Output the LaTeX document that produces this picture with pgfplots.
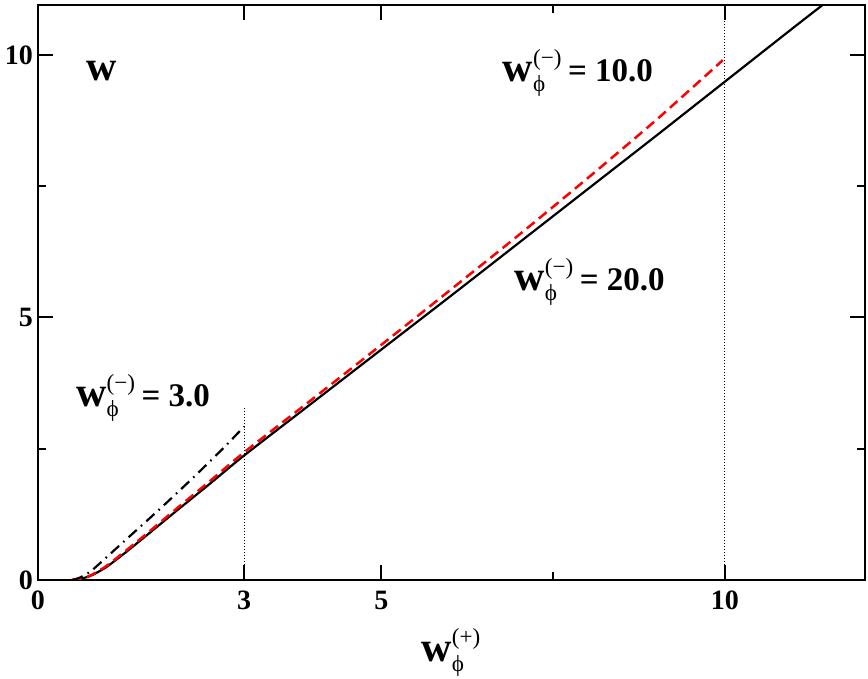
\documentclass[border=0pt]{standalone}
\usepackage{amsmath}
\usepackage{fontspec}
\setmainfont{Liberation Serif}
\usepackage{pgfplots}
\pgfplotsset{compat=1.18}
\newcommand{\wlab}[1]{$\text{\fontsize{21}{23}\selectfont\bfseries w}^{\text{\mdseries(#1)}}_{\text{\mdseries ϕ}}$}
\begin{document}
\begin{tikzpicture}
\begin{axis}[name=ax,
  scale only axis, width=413.5pt, height=287.5pt,
  xmin=0, xmax=12.04, ymin=0, ymax=10.95,
  axis line style={line width=1.25pt},
  xtick={0,3,5,10}, minor xtick={7.5},
  ytick={0,5,10}, minor ytick={2.5,7.5},
  tick align=inside,
  major tick length=7.5pt, minor tick length=4pt,
  every tick/.style={black, line width=1pt},
  tick label style={font=\fontsize{14}{16}\selectfont\bfseries},
  /pgf/number format/assume math mode=true,
  xticklabel style={yshift=-2pt},
  yticklabel style={xshift=1pt},
  xlabel={\fontsize{16.5}{19}\selectfont\wlab{+}},
  xlabel style={yshift=-2.5pt},
  clip=true,
]
% dotted verticals
\addplot[black, line width=0.5pt, dash pattern=on 0.5pt off 1pt] coordinates {(3,0) (3,3.3)};
\addplot[black, line width=0.5pt, dash pattern=on 0.5pt off 1pt] coordinates {(10,0) (10,11)};
% w- = 20 (solid)
\addplot[black, line width=1.1pt, smooth, tension=0.4] coordinates {
(0.49,0) (0.6,0.02) (0.7,0.05) (0.8,0.1) (1.0,0.25) (1.29,0.54) (1.6,0.87) (2,1.3) (2.5,1.83) (3,2.37) (4,3.38) (5,4.39) (6,5.40) (7,6.42) (8,7.44) (9,8.46) (10,9.49) (11,10.52) (11.6,11.13)};
% w- = 10 (red dashed)
\addplot[red, line width=1.25pt, dash pattern=on 5pt off 2.8pt, smooth, tension=0.4] coordinates {
(0.49,0) (0.6,0.02) (0.7,0.05) (0.8,0.11) (1.0,0.27) (1.29,0.57) (1.6,0.9) (2,1.34) (2.5,1.88) (3,2.43) (4,3.45) (5,4.48) (6,5.52) (7,6.57) (8,7.65) (9,8.76) (9.97,9.90)};
% w- = 3 (dash-dot)
\addplot[black, line width=1.1pt, dash pattern=on 5.5pt off 2.8pt on 0.8pt off 2.8pt, smooth, tension=0.4] coordinates {
(0.5,0) (0.6,0.04) (0.7,0.11) (0.8,0.2) (1.29,0.78) (1.78,1.36) (2.26,1.95) (2.69,2.5) (3,2.92)};
\node[font=\fontsize{21}{23}\selectfont\bfseries] at (axis cs:0.92,9.7) {w};
\node[font=\fontsize{16.5}{19}\selectfont\bfseries] at (axis cs:7.86,9.66) {\wlab{−}\,= 10.0};
\node[font=\fontsize{16.5}{19}\selectfont\bfseries] at (axis cs:8.03,5.68) {\wlab{−}\,= 20.0};
\node[font=\fontsize{16.5}{19}\selectfont\bfseries] at (axis cs:1.53,3.47) {\wlab{−}\,= 3.0};
\end{axis}
\pgfresetboundingbox
\path ([xshift=-19pt,yshift=-49.5pt]ax.south west) rectangle ([xshift=1.5pt,yshift=2.5pt]ax.north east);
\end{tikzpicture}
\end{document}
